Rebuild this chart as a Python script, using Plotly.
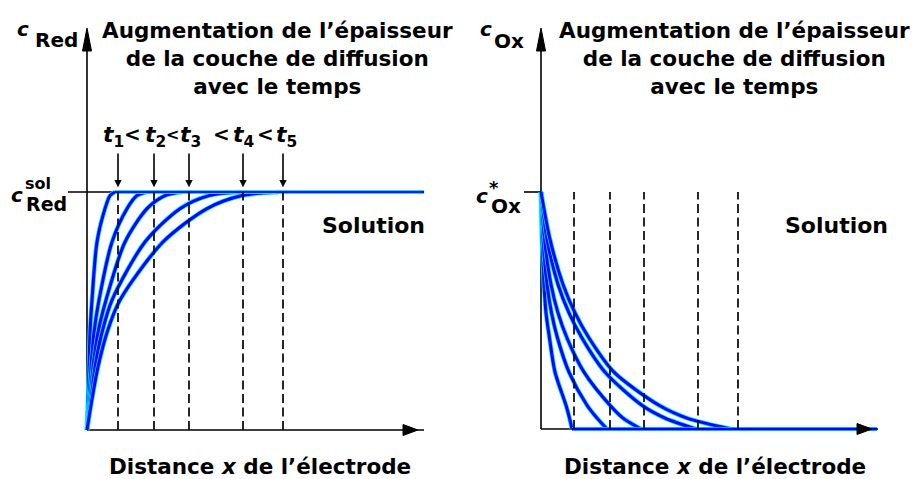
import plotly.graph_objects as go

# ---------------- data ----------------
# left panel: c_Red profiles (relative to c_Red^sol) vs distance (arbitrary units)
red_levels = [0.0, 0.13, 0.265, 0.41, 0.546, 0.79, 0.93, 0.985, 1.0]
red_t1 = [0.0, 0.1, 0.2, 0.3, 0.5, 1.0, 1.8, 2.3, 2.8]
red_t2 = [0.0, 0.2, 0.4, 0.7, 1.2, 2.5, 4.0, 5.0, 6.0]
red_t3 = [0.0, 0.3, 0.6, 1.1, 1.9, 3.8, 6.0, 7.8, 9.5]
red_t4 = [0.0, 0.4, 0.8, 1.5, 2.5, 5.8, 9.3, 12.2, 15.2]
red_t5 = [0.0, 0.5, 1.1, 2.0, 3.3, 7.6, 12.0, 15.5, 19.2]
red_solution_x = [2.8, 33.7]
red_solution_c = [1.0, 1.0]
red_dashed_x = [3.1, 6.7, 10.2, 15.6, 19.6]

# right panel: c_Ox profiles (relative to c*_Ox)
ox_levels = [1.0, 0.8, 0.61, 0.49, 0.384, 0.24, 0.10, 0.046, 0.0]
ox_t1 = [0.0, 0.1, 0.3, 0.5, 0.85, 1.4, 2.5, 2.85, 3.1]
ox_t2 = [0.0, 0.2, 0.6, 1.05, 1.65, 2.8, 4.6, 5.6, 6.6]
ox_t3 = [0.0, 0.35, 1.0, 1.7, 2.6, 4.3, 6.9, 8.2, 10.0]
ox_t4 = [0.0, 0.6, 1.7, 2.8, 4.1, 6.4, 10.1, 12.4, 15.5]
ox_t5 = [0.0, 0.9, 2.2, 3.4, 4.8, 7.3, 11.8, 14.6, 19.0]
ox_solution_x = [3.1, 33.6]
ox_solution_c = [0.0, 0.0]
ox_dashed_x = [3.3, 6.9, 10.3, 15.7, 19.7]

time_labels = ["1", "2", "3", "4", "5"]
title_text = "Augmentation de l’épaisseur<br>de la couche de diffusion<br>avec le temps"
xlabel_text = "Distance <i>x</i> de l’électrode"

# ---------------- layout helpers ----------------
W, H = 919, 479
FONT = "DejaVu Sans"
BLUE = "#0000FF"
HALO = "#00E8FF"


def fx(p):
    return p / W


def fy(p):
    return 1 - p / H


# pixel geometry of the two panels
L_X0, L_Y0, R_X0, R_Y0 = 87, 430, 541, 429
XU = 10.0            # px per distance unit
L_YU, R_YU = 238.0, 237.0
XMIN, XMAX_L, XMAX_R = -0.5, 33.7, 33.6
YMIN, YMAX = -0.05, 1.68

fig = go.Figure()


def add_curve(xs, ys, xa, ya, core=3.0):
    fig.add_trace(go.Scatter(x=xs, y=ys, mode="lines", xaxis=xa, yaxis=ya,
                             line=dict(color=HALO, width=core + 1.6, shape="spline", smoothing=0.8),
                             hoverinfo="skip", showlegend=False))
    fig.add_trace(go.Scatter(x=xs, y=ys, mode="lines", xaxis=xa, yaxis=ya,
                             line=dict(color=BLUE, width=core, shape="spline", smoothing=0.8),
                             hoverinfo="skip", showlegend=False))


for xs in [red_t1, red_t2, red_t3, red_t4, red_t5]:
    add_curve(xs, red_levels, "x", "y")
add_curve(red_solution_x, red_solution_c, "x", "y", core=2.2)

for xs in [ox_t1, ox_t2, ox_t3, ox_t4, ox_t5]:
    add_curve(xs, ox_levels, "x2", "y2")
add_curve(ox_solution_x, ox_solution_c, "x2", "y2", core=2.6)

shapes = []
annotations = []
AX = dict(color="black", width=1.6)

# axes (drawn as shapes so that curves on the axes are not clipped)
for x0, y0, xend, ytop in [(L_X0, L_Y0, 424, 28), (R_X0, R_Y0, 878, 28)]:
    shapes.append(dict(type="line", xref="paper", yref="paper", x0=fx(x0), y0=fy(y0),
                       x1=fx(xend), y1=fy(y0), line=AX, layer="below"))
    shapes.append(dict(type="line", xref="paper", yref="paper", x0=fx(x0), y0=fy(y0),
                       x1=fx(x0), y1=fy(ytop + 4), line=AX, layer="below"))
    # y arrow head
    shapes.append(dict(type="path", xref="paper", yref="paper",
                       path=f"M {fx(x0-4.5)},{fy(51)} L {fx(x0+4.5)},{fy(51)} L {fx(x0)},{fy(ytop)} Z",
                       fillcolor="black", line=dict(color="black", width=1)))
    # x arrow head
    tip = xend - 6
    shapes.append(dict(type="path", xref="paper", yref="paper",
                       path=f"M {fx(tip-15)},{fy(y0-5.5)} L {fx(tip-15)},{fy(y0+5.5)} L {fx(tip)},{fy(y0)} Z",
                       fillcolor="black", line=dict(color="black", width=1)))

# level ticks
shapes.append(dict(type="line", xref="paper", yref="paper", x0=fx(68), y0=fy(192),
                   x1=fx(L_X0 + 30), y1=fy(192), line=AX, layer="below"))
shapes.append(dict(type="line", xref="paper", yref="paper", x0=fx(524), y0=fy(192),
                   x1=fx(R_X0), y1=fy(192), line=AX, layer="below"))

DASH = dict(color="#111111", width=1.8, dash="9px,4.5px")
for xd in red_dashed_x:
    shapes.append(dict(type="line", xref="x", yref="y", x0=xd, x1=xd, y0=0, y1=1.0, line=DASH))
    annotations.append(dict(x=xd, y=1.02, xref="x", yref="y", ax=xd, ay=1.168, axref="x", ayref="y",
                            text="", showarrow=True, arrowhead=2, arrowsize=0.9, arrowwidth=1.6,
                            arrowcolor="black", standoff=0))
for xd in ox_dashed_x:
    shapes.append(dict(type="line", xref="x2", yref="y2", x0=xd, x1=xd, y0=0, y1=1.0, line=DASH))


def ann(text, xp, yp, size=22, xanchor="center", yanchor="middle", bold=True, align="center"):
    t = f"<b>{text}</b>" if bold else text
    annotations.append(dict(text=t, x=fx(xp), y=fy(yp), xref="paper", yref="paper",
                            xanchor=xanchor, yanchor=yanchor, showarrow=False, align=align,
                            font=dict(family=FONT, size=size, color="black")))


# titles
ann(title_text, 277, 58, size=21.5)
ann(title_text, 734, 58, size=21.5)
# solution labels
ann("Solution", 373, 225)
ann("Solution", 836, 225)
# x labels
ann(xlabel_text, 260, 466, size=21.5)
ann(xlabel_text, 715, 466, size=21.5)

# y labels (left)
ann("<i>c</i>", 23, 29, size=20)
ann("Red", 56, 40, size=20)
ann("<i>c</i>", 17, 195, size=20)
ann("sol", 38, 183, size=16)
ann("Red", 46, 204, size=19)
# y labels (right)
ann("<i>c</i>", 486, 29, size=20)
ann("Ox", 509, 41, size=20)
ann("<i>c</i>", 482, 196, size=20)
ann("*", 494, 187, size=18)
ann("Ox", 506, 206, size=20)

# time labels t1 < t2 < t3 < t4 < t5
t_left = [101, 143, 178, 231, 274]
for lab, xl in zip(time_labels, t_left):
    ann(f"<i>t</i><sub>{lab}</sub>", xl, 137, size=22, xanchor="left")
for xl, sz in zip([132, 172, 221, 265], [20, 16, 20, 20]):
    ann("&lt;", xl, 134, size=sz)

fig.update_layout(
    width=W, height=H,
    margin=dict(l=0, r=0, t=0, b=0),
    paper_bgcolor="white", plot_bgcolor="rgba(0,0,0,0)",
    showlegend=False,
    shapes=shapes, annotations=annotations,
    xaxis=dict(domain=[fx(L_X0 + XMIN * XU), fx(L_X0 + XMAX_L * XU)], range=[XMIN, XMAX_L],
               visible=False, fixedrange=True),
    yaxis=dict(domain=[fy(L_Y0 - YMIN * L_YU), fy(L_Y0 - YMAX * L_YU)], range=[YMIN, YMAX],
               visible=False, fixedrange=True),
    xaxis2=dict(domain=[fx(R_X0 + XMIN * XU), fx(R_X0 + XMAX_R * XU)], range=[XMIN, XMAX_R],
                visible=False, fixedrange=True, anchor="y2"),
    yaxis2=dict(domain=[fy(R_Y0 - YMIN * R_YU), fy(R_Y0 - YMAX * R_YU)], range=[YMIN, YMAX],
                visible=False, fixedrange=True, anchor="x2"),
)

fig.write_html("out.html", config={"displayModeBar": False},
               post_script="document.body.style.margin='0';document.body.style.overflow='hidden';")
